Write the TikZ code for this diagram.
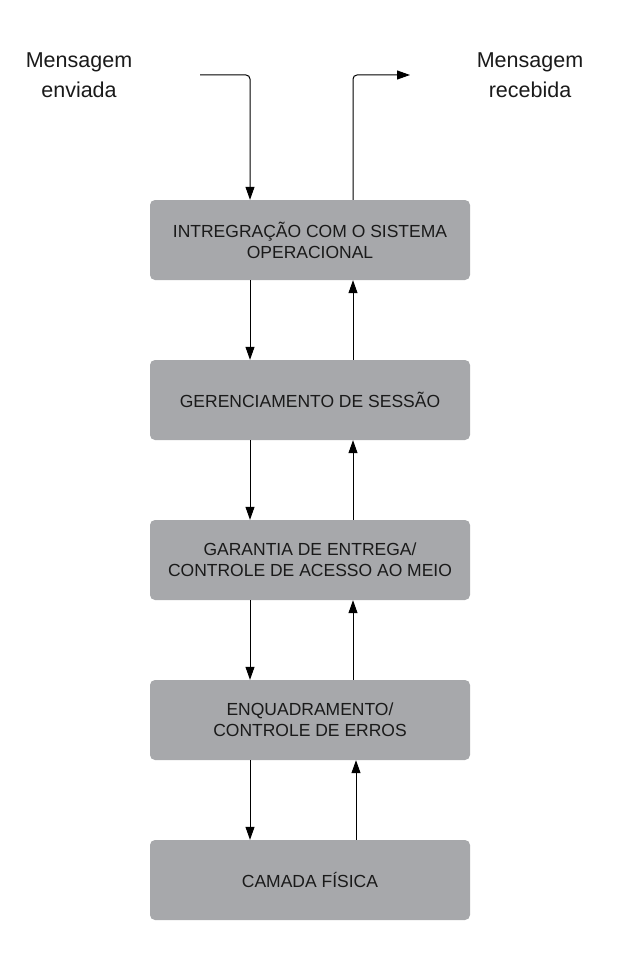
\documentclass[tikz,border=0pt]{standalone}
\usepackage{fontspec}
\setmainfont{Liberation Sans}
\usetikzlibrary{arrows.meta}
\definecolor{boxgray}{HTML}{A7A8AB}
\definecolor{txt}{HTML}{1A1A1A}
\begin{document}
\begin{tikzpicture}[x=1pt,y=-1pt,
  layerbox/.style={rectangle, fill=boxgray, draw=none, rounded corners=5pt,
    minimum width=320pt, minimum height=80pt, inner sep=0pt, align=center,
    text=txt, font=\fontsize{17.5}{21}\selectfont},
  lbl/.style={align=center, text=txt, font=\fontsize{21.5}{30}\selectfont},
  arr/.style={draw=black, line width=1pt, -{Triangle[length=13pt,width=9pt]}}]
\useasboundingbox (0,0) rectangle (620,963);
\node[layerbox] (b1) at (310,240) {INTREGRAÇÃO COM O SISTEMA\\OPERACIONAL};
\node[layerbox] (b2) at (310,400) {GERENCIAMENTO DE SESSÃO};
\node[layerbox] (b3) at (310,560) {GARANTIA DE ENTREGA/\\CONTROLE DE ACESSO AO MEIO};
\node[layerbox] (b4) at (310,720) {ENQUADRAMENTO/\\CONTROLE DE ERROS};
\node[layerbox] (b5) at (310,880) {CAMADA FÍSICA};
\node[lbl] (ls) at (79,75) {Mensagem\\enviada};
\node[lbl] (lr) at (530,75) {Mensagem\\recebida};
\coordinate (L) at (250,0);
\coordinate (R) at (353,0);
\coordinate (R2) at (356,0);
\coordinate (in) at (200,75);
\coordinate (out) at (410,75);
\draw[arr, rounded corners=4pt] (in) -| (b1.north -| L);
\draw[arr, rounded corners=4pt] (b1.north -| R) |- (out);
\draw[arr] (b1.south -| L) -- (b2.north -| L);
\draw[arr] (b2.south -| L) -- (b3.north -| L);
\draw[arr] (b3.south -| L) -- (b4.north -| L);
\draw[arr] (b4.south -| L) -- (b5.north -| L);
\draw[arr] (b2.north -| R) -- (b1.south -| R);
\draw[arr] (b3.north -| R) -- (b2.south -| R);
\draw[arr] (b4.north -| R) -- (b3.south -| R);
\draw[arr] (b5.north -| R2) -- (b4.south -| R2);
\end{tikzpicture}
\end{document}
